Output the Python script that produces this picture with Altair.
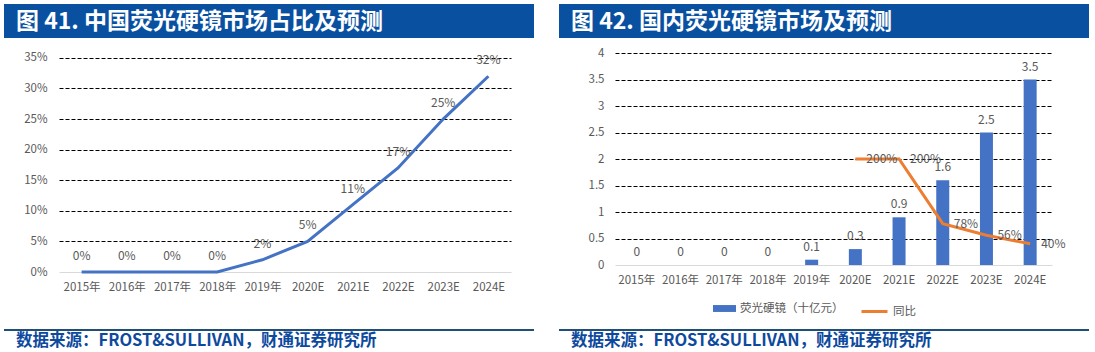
import altair as alt
import pandas as pd

# ---------------- data ----------------
years = ["2015年", "2016年", "2017年", "2018年", "2019年",
         "2020E", "2021E", "2022E", "2023E", "2024E"]
share_pct = [0, 0, 0, 0, 2, 5, 11, 17, 25, 32]
market_bn = [0, 0, 0, 0, 0.1, 0.3, 0.9, 1.6, 2.5, 3.5]
market_labels = ["0", "0", "0", "0", "0.1", "0.3", "0.9", "1.6", "2.5", "3.5"]
growth_years = ["2020E", "2021E", "2022E", "2023E", "2024E"]
growth_pct = [200, 200, 78, 56, 40]

title_left = "图 41. 中国荧光硬镜市场占比及预测"
title_right = "图 42. 国内荧光硬镜市场及预测"
source_text = "数据来源：FROST&SULLIVAN，财通证券研究所"
bar_name = "荧光硬镜（十亿元）"
line_name = "同比"

FONT = "Noto Sans CJK SC"
GRAY = "#595959"
BLUE = "#4472C4"
ORANGE = "#ED7D31"
BAR_BLUE = "#0A50A0"
RULE = "#1F4E79"
SRC = "#0D4A9E"

grid_op = {"condition": {"test": "datum.value === 0", "value": 0}, "value": 1}


def decorations(title, w_left, w_right, rect_y, title_y, rule_y, src_y):
    d = pd.DataFrame({"t": [title], "s": [source_text]})
    base = alt.Chart(d)
    rect = base.mark_rect(color=BAR_BLUE).encode(
        x=alt.value(w_left), x2=alt.value(w_right),
        y=alt.value(rect_y[0]), y2=alt.value(rect_y[1]))
    ttl = base.mark_text(align="left", baseline="middle", font=FONT, fontSize=23,
                         fontWeight="bold", color="white").encode(
        x=alt.value(w_left + 12), y=alt.value(title_y), text="t:N")
    rule = base.mark_rule(color=RULE, strokeWidth=2).encode(
        x=alt.value(w_left), x2=alt.value(w_right), y=alt.value(rule_y))
    src = base.mark_text(align="left", baseline="middle", font=FONT, fontSize=16.5,
                         fontWeight="bold", color=SRC).encode(
        x=alt.value(w_left + 12), y=alt.value(src_y), text="s:N")
    return [rect, ttl, rule, src]


xaxis = alt.Axis(title=None, labelAngle=0, ticks=False, domainColor="#D9D9D9",
                 labelPadding=9, labelColor=GRAY, labelFont=FONT, labelFontSize=11.5,
                 grid=False)

# ---------------- left panel ----------------
W1, H1 = 452, 219
df1 = pd.DataFrame({"year": years, "share": share_pct,
                    "label": [f"{v}%" for v in share_pct]})
ysc1 = alt.Scale(domain=[0, 35.8], nice=False)
x1 = alt.X("year:N", sort=years, axis=xaxis)
y1 = alt.Y("share:Q", scale=ysc1,
           axis=alt.Axis(title=None, values=list(range(0, 36, 5)),
                         labelExpr="datum.value + '%'", grid=True, gridDash=[4, 2],
                         gridColor="#000000", gridOpacity=grid_op, domain=False,
                         ticks=False, labelPadding=12, labelColor=GRAY,
                         labelOverlap=False, labelFont=FONT, labelFontSize=11.5))
line1 = alt.Chart(df1).mark_line(color=BLUE, strokeWidth=3).encode(x=x1, y=y1)
text1 = alt.Chart(df1).mark_text(dy=-16, font=FONT, fontSize=12, color=GRAY).encode(
    x=x1, y=y1, text="label:N")

left = alt.layer(
    line1, text1,
    *decorations(title_left, -55, 475, (-49, -15), -31, 277, 288)
).properties(width=W1, height=H1)

# ---------------- right panel ----------------
W2, H2 = 437, 212
df2 = pd.DataFrame({"year": years, "v": market_bn, "label": market_labels,
                    "s": [bar_name] * len(years)})
df3 = pd.DataFrame({"year": growth_years, "g": growth_pct,
                    "label": [f"{v}%" for v in growth_pct],
                    "s": [line_name] * len(growth_years)})
x2 = alt.X("year:N", sort=years, axis=xaxis,
           scale=alt.Scale(paddingInner=0, paddingOuter=0))
ysc = alt.Scale(domain=[0, 4], nice=False)
gsc = alt.Scale(domain=[0, 400], nice=False)

bars = alt.Chart(df2).mark_bar(size=13).encode(
    x=x2,
    y=alt.Y("v:Q", scale=ysc,
            axis=alt.Axis(title=None, values=[0, 0.5, 1, 1.5, 2, 2.5, 3, 3.5, 4],
                          format="~g", grid=True, gridDash=[4, 2], gridColor="#000000",
                          gridOpacity=grid_op, domain=False, ticks=False,
                          labelOverlap=False, labelPadding=11, labelColor=GRAY,
                          labelFont=FONT, labelFontSize=11.5)),
    color=alt.Color("s:N", scale=alt.Scale(domain=[bar_name], range=[BLUE]),
                    legend=alt.Legend(title=None, orient="none", legendX=98,
                                      legendY=244, padding=0,
                                      symbolType="M-1,-0.3H1V0.3H-1Z", symbolSize=529,
                                      symbolStrokeWidth=0, labelFont=FONT,
                                      labelFontSize=11.5, labelColor=GRAY)))
bar_text = alt.Chart(df2).mark_text(dy=-13, font=FONT, fontSize=12, color=GRAY).encode(
    x=x2, y=alt.Y("v:Q", scale=ysc, axis=None), text="label:N")
gline = alt.Chart(df3).mark_line(strokeWidth=3).encode(
    x=x2, y=alt.Y("g:Q", scale=gsc, axis=None),
    color=alt.Color("s:N", scale=alt.Scale(domain=[line_name], range=[ORANGE]),
                    legend=alt.Legend(title=None, orient="none", legendX=245,
                                      legendY=244, padding=0, symbolType="stroke",
                                      symbolSize=676, symbolStrokeWidth=3,
                                      labelFont=FONT, labelFontSize=11.5,
                                      labelColor=GRAY)))
gtext = alt.Chart(df3).mark_text(align="left", baseline="middle", dx=11, font=FONT,
                                 fontSize=12, color=GRAY).encode(
    x=x2, y=alt.Y("g:Q", scale=gsc, axis=None), text="label:N")

right = alt.layer(
    bars, bar_text, gline, gtext,
    *decorations(title_right, -56, 474, (-49, -15), -31, 277, 288)
).resolve_scale(y="independent", color="independent").properties(width=W2, height=H2)

chart = alt.hconcat(left, right, spacing=23).configure_view(stroke=None).properties(
    padding={"left": 3, "top": 4, "right": 0, "bottom": 0}, background="white")

chart.save("out.html", embed_options={"renderer": "svg", "actions": False})
